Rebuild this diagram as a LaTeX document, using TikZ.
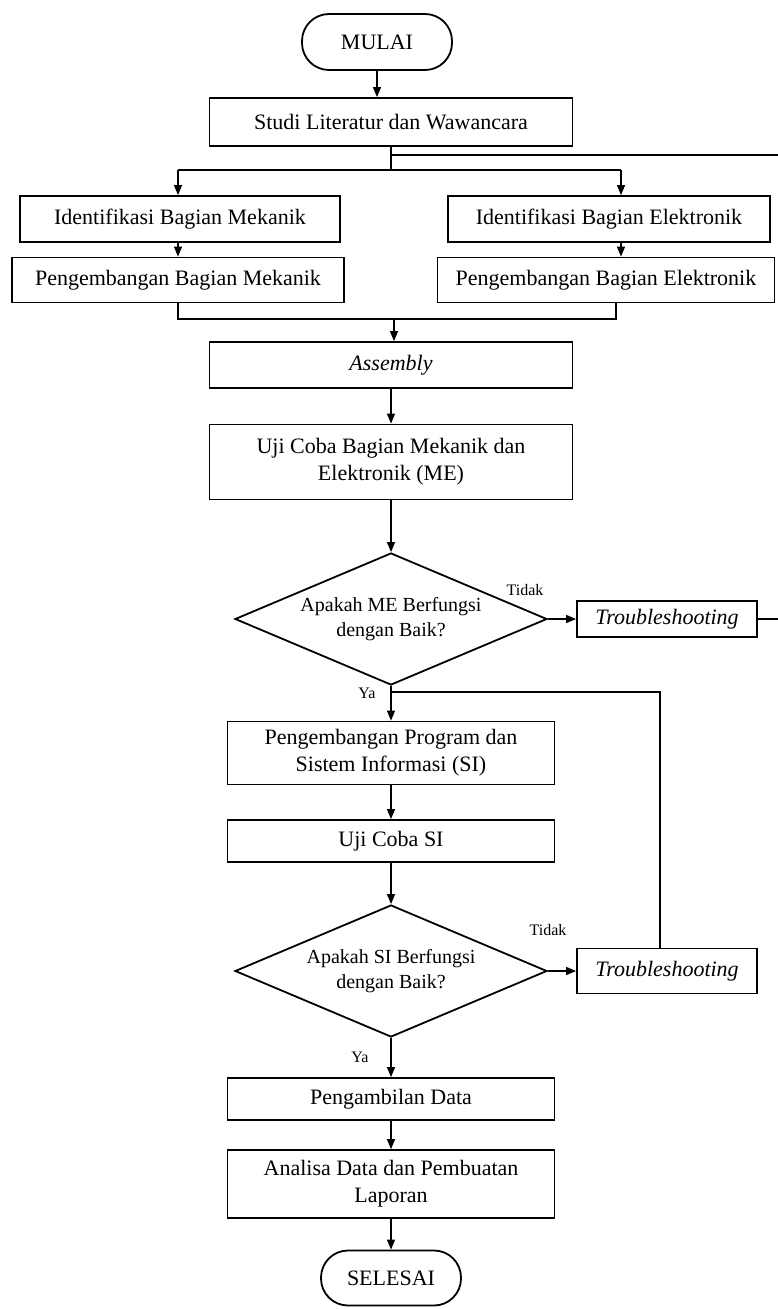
\documentclass[tikz,border=0pt]{standalone}
\usepackage{fontspec}
\setmainfont{Liberation Serif}
\usetikzlibrary{shapes.geometric,arrows.meta}
\begin{document}
\begin{tikzpicture}[x=1pt,y=-1pt,
  box/.style={draw,line width=1.8pt,minimum width=#1,inner sep=2pt,align=center,font=\fontsize{22}{27}\selectfont},
  term/.style={draw,line width=1.8pt,rounded corners=27pt,minimum height=56pt,inner sep=2pt,font=\fontsize{22}{26}\selectfont},
  dec/.style={draw,diamond,line width=1.8pt,minimum width=312pt,minimum height=132pt,inner sep=0pt,aspect=2.36,align=center,font=\fontsize{20}{25}\selectfont},
  lab/.style={font=\fontsize{16}{19}\selectfont},
  conn/.style={line width=1.2pt},
  arr/.style={conn,-{Triangle[width=8pt,length=10pt]}}
]
\useasboundingbox (0,0) rectangle (778,1309);
% nodes
\node[term,minimum width=150pt] (mulai) at (377,42) {MULAI};
\node[box=363pt,minimum height=48pt] (studi) at (391,122) {Studi Literatur dan Wawancara};
\node[box=320pt,minimum height=46pt] (idm) at (180,219) {Identifikasi Bagian Mekanik};
\node[box=322pt,minimum height=46pt] (ide) at (609,219) {Identifikasi Bagian Elektronik};
\node[box=332pt,minimum height=45pt] (pgm) at (178,280) {Pengembangan Bagian Mekanik};
\node[box=337pt,minimum height=45pt] (pge) at (606,280) {Pengembangan Bagian Elektronik};
\node[box=363pt,minimum height=46pt] (asm) at (391,365) {\itshape Assembly};
\node[box=363pt,minimum height=75pt] (uji) at (391,462) {Uji Coba Bagian Mekanik dan\\Elektronik (ME)};
\node[dec] (d1) at (391,619) {Apakah ME Berfungsi\\dengan Baik?};
\node[box=180pt,minimum height=36pt,font=\fontsize{22}{26}\selectfont\itshape] (t1) at (667,619) {Troubleshooting};
\node[box=327pt,minimum height=63pt] (pp) at (391,753) {Pengembangan Program dan\\Sistem Informasi (SI)};
\node[box=327pt,minimum height=42pt] (ujs) at (391,841) {Uji Coba SI};
\node[dec] (d2) at (391,971) {Apakah SI Berfungsi\\dengan Baik?};
\node[box=180pt,minimum height=45pt,font=\fontsize{22}{26}\selectfont\itshape] (t2) at (667,971) {Troubleshooting};
\node[box=327pt,minimum height=42pt] (pd) at (391,1099) {Pengambilan Data};
\node[box=327pt,minimum height=68pt] (an) at (391,1184) {Analisa Data dan Pembuatan\\Laporan};
\node[term,minimum width=140pt,minimum height=55pt] (sel) at (391,1278) {SELESAI};
% labels
\node[lab] (tdk1) at (525,590) {Tidak};
\node[lab] (ya1) at (367,693) {Ya};
\node[lab] (tdk2) at (548,930) {Tidak};
\node[lab] (ya2) at (360,1057) {Ya};
% coordinates
\coordinate (j0) at (391,155);
\coordinate (j1) at (391,170);
\coordinate (jl) at (178,170);
\coordinate (jr) at (621,170);
\coordinate (eR1) at (778,155);
\coordinate (eR2) at (778,619);
\coordinate (m0) at (394,319);
\coordinate (ml) at (178,319);
\coordinate (mr) at (616,319);
\coordinate (fb) at (392,692);
\coordinate (fbx) at (660,692);
% connectors
\draw[arr] (mulai.south) -- (mulai.south |- studi.north);
\draw[conn] (studi.south) -- (j1);
\draw[conn] (j0) -- (eR1);
\draw[conn] (jl) -- (jr);
\draw[arr] (jl) -- (jl |- idm.north);
\draw[arr] (jr) -- (jr |- ide.north);
\draw[arr] (jl |- idm.south) -- (jl |- pgm.north);
\draw[arr] (jr |- ide.south) -- (jr |- pge.north);
\draw[conn] (ml |- pgm.south) -- (ml) -- (mr) -- (mr |- pge.south);
\draw[arr] (m0) -- (m0 |- asm.north);
\draw[arr] (asm.south) -- (uji.north);
\draw[arr] (uji.south) -- (d1.north);
\draw[arr] (d1.east) -- (t1.west);
\draw[conn] (t1.east) -- (eR2);
\draw[arr] (d1.south) -- (pp.north);
\draw[conn] (fbx |- t2.north) -- (fbx) -- (fb);
\draw[arr] (pp.south) -- (ujs.north);
\draw[arr] (ujs.south) -- (d2.north);
\draw[arr] (d2.east) -- (t2.west);
\draw[arr] (d2.south) -- (pd.north);
\draw[arr] (pd.south) -- (an.north);
\draw[arr] (an.south) -- (sel.north);
\end{tikzpicture}
\end{document}
